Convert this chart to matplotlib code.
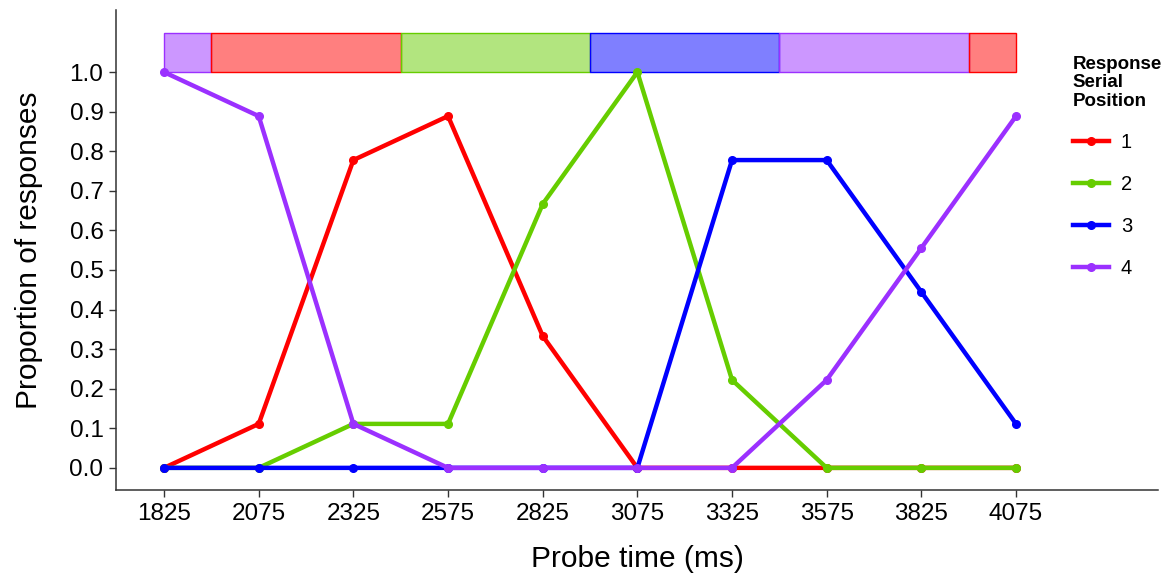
import matplotlib
matplotlib.use('Agg')
import matplotlib.pyplot as plt
from matplotlib.patches import Rectangle

plt.rcParams['font.family'] = ['Liberation Sans', 'DejaVu Sans']

# Probe times and proportions for each response serial position
probe_times = [1825, 2075, 2325, 2575, 2825, 3075, 3325, 3575, 3825, 4075]
pos1 = [0, 1/9, 7/9, 8/9, 3/9, 0, 0, 0, 0, 0]
pos2 = [0, 0, 1/9, 1/9, 6/9, 1, 2/9, 0, 0, 0]
pos3 = [0, 0, 0, 0, 0, 0, 7/9, 7/9, 4/9, 1/9]
pos4 = [1, 8/9, 1/9, 0, 0, 0, 0, 2/9, 5/9, 8/9]
series = [('1', pos1), ('2', pos2), ('3', pos3), ('4', pos4)]

# Stimulus bands along the top: (start, end, serial position)
bands = [(1825, 1950, 4), (1950, 2450, 1), (2450, 2950, 2),
         (2950, 3450, 3), (3450, 3950, 4), (3950, 4075, 1)]

colors = {'1': '#FF0000', '2': '#66CD00', '3': '#0000FF', '4': '#9B30FF'}

fig = plt.figure(figsize=(11.76, 5.78), dpi=100)
ax = fig.add_axes([0.0986, 0.1522, 0.8861, 0.8305])

for start, end, pos in bands:
    c = colors[str(pos)]
    ax.add_patch(Rectangle((start, 1.0), end - start, 0.1,
                           facecolor=c, alpha=0.5, edgecolor='none', zorder=1))
    ax.add_patch(Rectangle((start, 1.0), end - start, 0.1,
                           facecolor='none', edgecolor=c, lw=1, zorder=1))

for label, vals in series:
    ax.plot(probe_times, vals, color=colors[label], lw=3.2, marker='o',
            markersize=5.5, label=label, zorder=3)

ax.set_xlim(1698, 4450)
ax.set_ylim(-0.056, 1.157)
ax.set_xticks(probe_times)
ax.set_yticks([i / 10 for i in range(11)])
ax.set_yticklabels(['%.1f' % (i / 10) for i in range(11)])
ax.tick_params(labelsize=17.5, length=5, width=1, color='#333333',
               labelcolor='black', pad=4)

for side in ['top', 'right']:
    ax.spines[side].set_visible(False)
for side in ['left', 'bottom']:
    ax.spines[side].set_color('#333333')
    ax.spines[side].set_linewidth(1.1)

ax.set_xlabel('Probe time (ms)', fontsize=21.5, labelpad=15)
ax.set_ylabel('Proportion of responses', fontsize=21.5, labelpad=19)

leg = fig.legend(title='Response\nSerial\nPosition', loc='upper left',
                 bbox_to_anchor=(0.912, 0.903), frameon=False, fontsize=14.5,
                 handlelength=1.8, handletextpad=0.6, labelspacing=1.15,
                 borderaxespad=0, borderpad=0)
leg.get_title().set_fontweight('bold')
leg.get_title().set_fontsize(13.5)
leg.get_title().set_linespacing(1.1)
leg._legend_box.align = 'left'

plt.savefig('out.png', dpi=100)
